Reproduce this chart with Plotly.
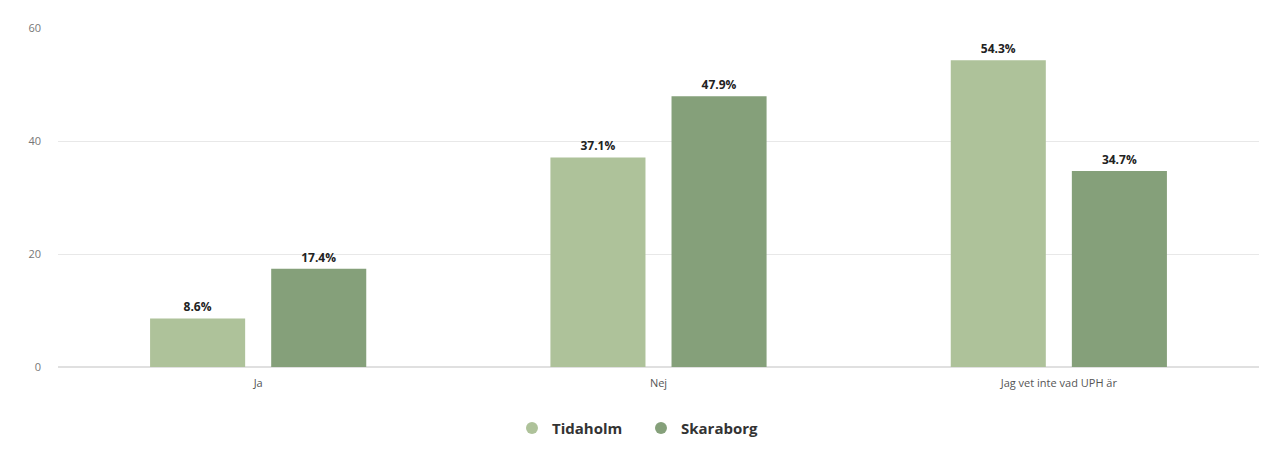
import plotly.graph_objects as go

categories = ["Ja", "Nej", "Jag vet inte vad UPH är"]
series_names = ["Tidaholm", "Skaraborg"]
tidaholm = [8.6, 37.1, 54.3]
skaraborg = [17.4, 47.9, 34.7]
y_ticks = [0, 20, 40, 60]
colors = ["#aec29a", "#85a07a"]

fig = go.Figure()
for name, vals, col in zip(series_names, [tidaholm, skaraborg], colors):
    fig.add_trace(go.Bar(
        x=categories, y=vals, name=name, marker=dict(color=col, line=dict(width=0)),
        text=[f"{v:.1f}%" for v in vals], textposition="outside",
        textfont=dict(family="Open Sans, sans-serif", size=12, color="#222222", weight="bold"),
        cliponaxis=False, showlegend=False, hoverinfo="skip",
    ))
    fig.add_trace(go.Scatter(
        x=[None], y=[None], mode="markers", name=name,
        marker=dict(symbol="circle", size=12, color=col), showlegend=True,
    ))

fig.update_layout(
    width=1268, height=469,
    margin=dict(l=50, r=17, t=16, b=110),
    paper_bgcolor="white", plot_bgcolor="white",
    barmode="group", bargap=0.395, bargroupgap=0.215,
    font=dict(family="Open Sans, sans-serif", color="#666666", size=11),
    xaxis=dict(showgrid=False, showline=False, ticks="", ticklabelstandoff=8,
               tickfont=dict(size=11, color="#555555")),
    yaxis=dict(range=[0, 60], tickvals=y_ticks, showgrid=True, gridcolor="#e8e8e8",
               zeroline=True, zerolinecolor="#e0e0e0", ticks="", ticklabelstandoff=16,
               tickfont=dict(size=11, color="#777777")),
    legend=dict(orientation="h", x=0.378, xanchor="left", y=-0.132, yanchor="top",
                entrywidth=84, entrywidthmode="pixels",
                font=dict(size=15, color="#333333", weight="bold"), itemsizing="constant"),
)

fig.write_html("out.html")
